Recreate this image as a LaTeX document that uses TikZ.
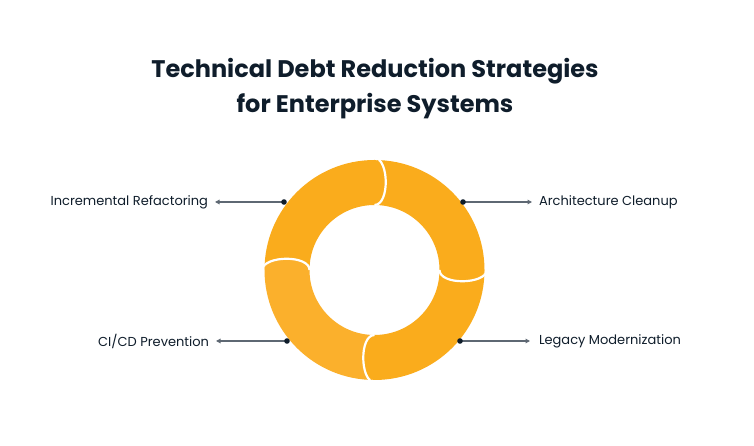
\documentclass[tikz,border=0pt]{standalone}
\usepackage{fontspec}
\setmainfont{Poppins}
\usetikzlibrary{arrows.meta,calc}
\definecolor{ink}{HTML}{0F1D2B}
\definecolor{linegray}{HTML}{5E6873}
\definecolor{segA}{HTML}{FAAC1C}
\definecolor{segB}{HTML}{FBB02C}
\tikzset{
  lbl/.style={font=\fontsize{13}{15}\selectfont, text=ink, inner sep=0pt, outer sep=0pt},
  ptr/.style={draw=linegray, line width=1.1pt, -{Triangle[length=4.5pt,width=4.5pt]}},
  pin/.style={fill=ink},
  sep/.style={draw=white, line width=2.2pt},
}
\begin{document}
\begin{tikzpicture}[x=1pt,y=1pt]
\useasboundingbox (0,0) rectangle (754,446);
\fill[white] (0,0) rectangle (754,446);
% title
\node[font=\fontsize{24}{35}\selectfont\bfseries, text=ink, align=center] (title) at (375,357.5)
  {Technical Debt Reduction Strategies\\for Enterprise Systems};
% ring
\def\R{110}\def\r{65}\def\d{15}
\begin{scope}[shift={(374.5,176)}]
\foreach \a/\col in {0/segA,90/segA,180/segB,270/segA}{
  \pgfmathsetmacro\b{\a+90}
  \fill[\col] (\b:\R) arc[start angle=\b, end angle=\a, radius=\R]
    .. controls ([shift={(\a-90:\d)}]\a:\R) and ([shift={(\a-90:\d)}]\a:\r) .. (\a:\r)
    arc[start angle=\a, end angle=\b, radius=\r]
    .. controls ([shift={(\a:\d)}]\b:\r) and ([shift={(\a:\d)}]\b:\R) .. (\b:\R) -- cycle;
}
\foreach \a in {0,90,180,270}{
  \draw[sep] ([shift={(\a:1.5)}]\a:\R+1.5) .. controls ([shift={(\a-90:\d)}]\a:\R) and ([shift={(\a-90:\d)}]\a:\r) .. (\a:\r);
}
\end{scope}
% dots
\coordinate (d1) at (284,244);
\coordinate (d2) at (463,244);
\coordinate (d3) at (287,105);
\coordinate (d4) at (460,105);
% labels
\node[lbl, anchor=east] (l1) at (208,243.5) {Incremental Refactoring};
\node[lbl, anchor=west] (l2) at (539,243.5) {Architecture Cleanup};
\node[lbl, anchor=east] (l3) at (209,104.5) {CI/CD Prevention};
\node[lbl, anchor=west] (l4) at (539,104.5) {Legacy Modernization};
% arrows
\draw[ptr] (d1) -- ([xshift=7pt]d1 -| l1.east);
\draw[ptr] (d2) -- ([xshift=-7pt]d2 -| l2.west);
\draw[ptr] (d3) -- ([xshift=7pt]d3 -| l3.east);
\draw[ptr] (d4) -- ([xshift=-9pt]d4 -| l4.west);
\foreach \p in {d1,d2,d3,d4}{ \fill[pin] (\p) circle (2.8pt); }
\end{tikzpicture}
\end{document}
